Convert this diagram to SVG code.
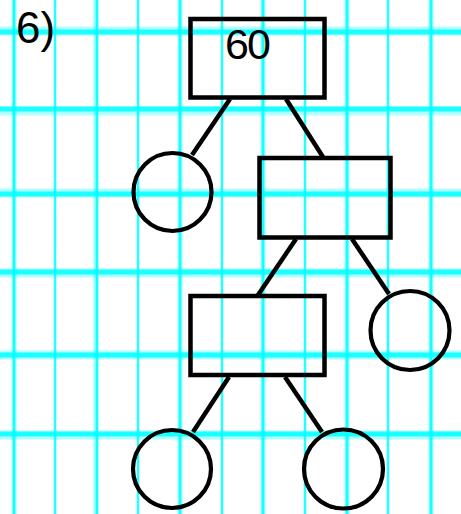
<svg xmlns="http://www.w3.org/2000/svg" width="461" height="514" viewBox="0 0 461 514">
<style>
.box{fill:none;stroke:#000;stroke-width:4.5}
.circ{fill:none;stroke:#000;stroke-width:4.2}
.edge{stroke:#000;stroke-width:4.5;stroke-linecap:butt}
.lbl{font-family:"Liberation Sans",Arial,sans-serif;fill:#000}
.vw{stroke:#00ffff;stroke-width:5;opacity:0.4}
.vc{stroke:#00ffff;stroke-width:2.5;opacity:0.85}
.hw{stroke:#00ffff;stroke-width:9;opacity:0.3}
.hc{stroke:#00ffff;stroke-width:5;opacity:0.85}
</style>
<rect width="461" height="514" fill="#fff"/>
<g id="grid">
<line class="vw" x1="14" y1="0" x2="14" y2="514"/>
<line class="vc" x1="14" y1="0" x2="14" y2="514"/>
<line class="vc" x1="55" y1="0" x2="55" y2="514"/>
<line class="vw" x1="96" y1="0" x2="96" y2="514"/>
<line class="vc" x1="97" y1="0" x2="97" y2="514"/>
<line class="vc" x1="138" y1="0" x2="138" y2="514"/>
<line class="vw" x1="180" y1="0" x2="180" y2="514"/>
<line class="vc" x1="180" y1="0" x2="180" y2="514"/>
<line class="vc" x1="222" y1="0" x2="222" y2="514"/>
<line class="vw" x1="263" y1="0" x2="263" y2="514"/>
<line class="vc" x1="263" y1="0" x2="263" y2="514"/>
<line class="vc" x1="305" y1="0" x2="305" y2="514"/>
<line class="vw" x1="347" y1="0" x2="347" y2="514"/>
<line class="vc" x1="347" y1="0" x2="347" y2="514"/>
<line class="vc" x1="388" y1="0" x2="388" y2="514"/>
<line class="vw" x1="431" y1="0" x2="431" y2="514"/>
<line class="vc" x1="431" y1="0" x2="431" y2="514"/>
<line class="hw" x1="0" y1="31" x2="461" y2="31"/>
<line class="hc" x1="0" y1="32" x2="461" y2="32"/>
<line class="hw" x1="0" y1="111" x2="461" y2="111"/>
<line class="hc" x1="0" y1="109" x2="461" y2="109"/>
<line class="hw" x1="0" y1="193" x2="461" y2="193"/>
<line class="hc" x1="0" y1="194" x2="461" y2="194"/>
<line class="hw" x1="0" y1="273" x2="461" y2="273"/>
<line class="hc" x1="0" y1="272" x2="461" y2="272"/>
<line class="hw" x1="0" y1="355" x2="461" y2="355"/>
<line class="hc" x1="0" y1="355" x2="461" y2="355"/>
<line class="hw" x1="0" y1="435" x2="461" y2="435"/>
<line class="hc" x1="0" y1="434" x2="461" y2="434"/>
</g>
<text class="lbl" x="16" y="43" font-size="44">6)</text>
<g id="connectors">
<line class="edge" x1="230" y1="99" x2="192" y2="155"/>
<line class="edge" x1="286" y1="99" x2="323" y2="157"/>
<line class="edge" x1="296" y1="239" x2="258" y2="295"/>
<line class="edge" x1="352" y1="239" x2="389" y2="294"/>
<line class="edge" x1="229" y1="377" x2="193" y2="432"/>
<line class="edge" x1="285" y1="377" x2="322" y2="432"/>
</g>
<g id="n60"><rect class="box" x="190.5" y="19" width="134" height="78.5"/>
<text class="lbl" x="225" y="59" font-size="43" letter-spacing="-2">60</text></g>
<g id="c1"><circle class="circ" cx="172.5" cy="192" r="39"/></g>
<g id="b2"><rect class="box" x="259.5" y="158" width="131" height="79.5"/></g>
<g id="b3"><rect class="box" x="190.5" y="296" width="134" height="79"/></g>
<g id="c2"><circle class="circ" cx="410" cy="330.5" r="39.5"/></g>
<g id="c3"><circle class="circ" cx="172" cy="469" r="39"/></g>
<g id="c4"><circle class="circ" cx="343.5" cy="469" r="39.5"/></g>
</svg>
